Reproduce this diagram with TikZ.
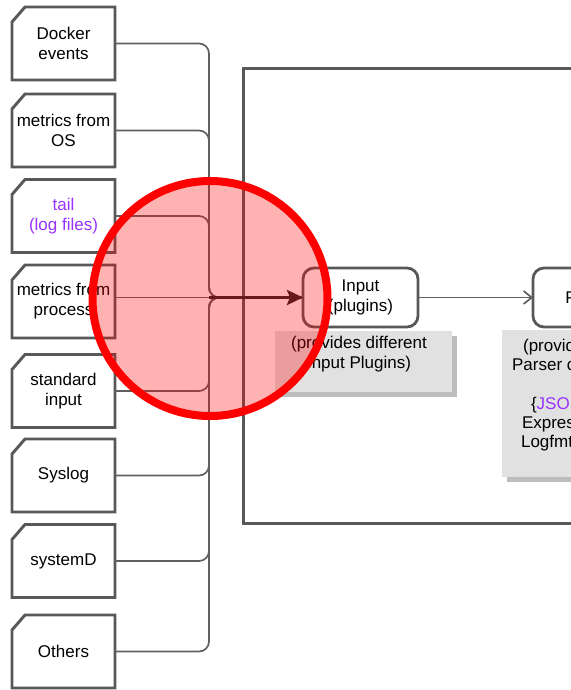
\documentclass[tikz,border=0pt]{standalone}
\usepackage{fontspec}
\setmainfont{Liberation Sans}
\usetikzlibrary{arrows.meta}
\definecolor{edgegray}{HTML}{606060}
\definecolor{boxgray}{HTML}{585858}
\definecolor{notefill}{HTML}{E1E1E1}
\definecolor{noteshadow}{HTML}{BDBDBD}
\definecolor{srcviolet}{HTML}{9933FF}
\begin{document}
\begin{tikzpicture}[x=1pt,y=-1pt,
  txt/.style={font=\fontsize{17}{20}\selectfont, align=center, inner sep=0pt, outer sep=0pt},
  srcbox/.style={txt, minimum width=103pt, minimum height=73pt},
  srcline/.style={draw=boxgray, line width=2.9pt, fill=white, line join=miter},
  conn/.style={draw=edgegray, line width=1.7pt},
  bigarrow/.style={draw=black!85, line width=3.4pt, -{Stealth[length=16pt,width=15pt,inset=3pt]}},
  thinarrow/.style={draw=edgegray, line width=1.7pt, -{Straight Barb[length=8pt,width=13pt]}},
  plugin/.style={txt, draw=boxgray, line width=2.8pt, rounded corners=11pt, fill=white, minimum width=115pt, minimum height=59pt},
  notebg/.style={fill=notefill, inner sep=0pt, outer sep=0pt},
  noteshd/.style={fill=noteshadow, inner sep=0pt, outer sep=0pt},
  container/.style={draw=boxgray, line width=3pt, inner sep=0pt, minimum width=360pt, minimum height=454pt}
]
\useasboundingbox (0,0) rectangle (570,690);

% container
\node[container] (pipeline) at (423,296) {};

% source boxes
\node[srcbox] (docker)  at (63.5,43.5)  {};
\node[srcbox] (os)      at (63.5,130.5) {};
\node[srcbox] (tail)    at (63.5,216)   {};
\node[srcbox] (process) at (63.5,301.5) {};
\node[srcbox] (stdin)   at (63.5,391)   {};
\node[srcbox] (syslog)  at (63.5,475.5) {};
\node[srcbox] (systemd) at (63.5,561)   {};
\node[srcbox] (others)  at (63.5,651.5) {};
\foreach \n in {docker,os,tail,process,stdin,syslog,systemd,others}{
  \draw[srcline] ([xshift=13pt]\n.north west) -- (\n.north east) -- (\n.south east)
     -- (\n.south west) -- ([yshift=-15pt]\n.north west) -- cycle;
}
\node[txt] (dockertext)  at (docker)  {Docker\\events};
\node[txt] (ostext)      at (os)      {metrics from\\OS};
\node[txt] (tailtext)    at (tail)    {\textcolor{srcviolet}{tail}\\\textcolor{srcviolet}{(log files)}};
\node[txt] (processtext) at (process) {metrics from\\process};
\node[txt] (stdintext)   at (stdin)   {standard\\input};
\node[txt] (syslogtext)  at (syslog)  {Syslog};
\node[txt] (systemdtext) at (systemd) {systemD};
\node[txt] (otherstext)  at (others)  {Others};

% plugin nodes
\node[plugin] (input)  at (360.5,297.5) {Input\\(plugins)};
\node[plugin] (parser) at (590.5,297.5) {Parser};

% notes
\node[noteshd, minimum width=177pt, minimum height=61pt] (inputnoteshd) at (368.5,366.5) {};
\node[notebg,  minimum width=177pt, minimum height=61pt] (inputnotebg)  at (363.5,361.5) {};
\node[txt] (inputnote) at (359,354.5) {(provides different\\Input Plugins)};

\node[noteshd, minimum width=177pt, minimum height=147pt] (parsernoteshd) at (595.5,408.5) {};
\node[notebg,  minimum width=177pt, minimum height=147pt] (parsernotebg)  at (590.5,403.5) {};
\node[txt, font=\fontsize{17}{19.3}\selectfont] (parsernote) at (591,395)
  {(provides different\\Parser configuration)\\[19.3pt]\{\textcolor{srcviolet}{JSON}, Regular\\Expression, LTSV,\\Logfmt, Decoders\}};

% connectors
\coordinate (bus) at (209,0);
\foreach \n in {docker,os,tail,stdin,syslog,systemd,others}{
  \draw[conn, rounded corners=10pt] (\n.east) -- (\n.east -| bus) -- (bus |- input.west) -- (input.west);
}
\draw[conn] (process.east |- input.west) -- (input.west);
\draw[bigarrow] (bus |- input.west) -- (input.west);
\draw[thinarrow] (input.east) -- (parser.west);

% highlight circle
\node[circle, draw=red, line width=8pt, fill=red, fill opacity=0.3, draw opacity=1,
      minimum size=235pt, inner sep=0pt] (highlight) at (210,298.5) {};
\end{tikzpicture}
\end{document}
